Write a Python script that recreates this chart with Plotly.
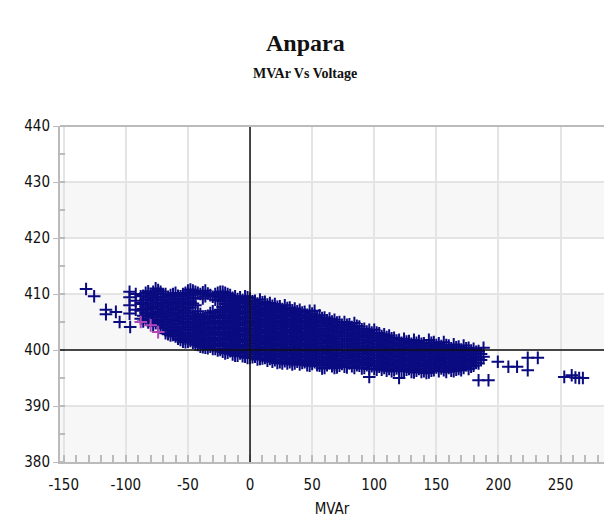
import plotly.graph_objects as go

# ---- data: (MVAr column, list of kV values) ----
columns = [
    (-97, [410.4, 409.4, 408.0, 406.5]),
    (-92, [410.0, 408.8, 407.2]),
    (-88, [409.6, 408.4, 407.0, 405.6]),
    (-84, [410.2, 409.0, 407.8, 406.6, 405.4]),
    (-80, [409.8, 408.8, 407.6, 406.4, 405.2]),
    (-76, [411.0, 410.0, 408.9, 407.8, 406.8, 405.8, 404.8]),
    (-72, [410.4, 409.4, 408.4, 407.4, 406.4, 405.4, 404.4]),
    (-68, [410.0, 409.0, 408.0, 407.0, 406.0, 405.0, 404.0, 403.0]),
    (-64, [409.8, 408.6, 407.6, 406.6, 405.6, 404.6, 403.6, 402.6]),
    (-60, [410.2, 409.2, 408.2, 407.2, 406.2, 405.2, 404.2, 403.2, 402.4]),
    (-56, [409.6, 408.6, 407.6, 406.6, 405.6, 404.6, 403.6, 402.6, 401.8]),
    (-52, [410.2, 409.2, 408.2, 407.0, 406.0, 405.0, 404.0, 403.0, 402.0, 401.4]),
    (-48, [410.8, 409.8, 408.6, 407.6, 406.6, 405.6, 404.6, 403.6, 402.6, 401.6]),
    (-44, [410.4, 409.2, 408.0, 406.0, 405.0, 404.0, 403.0, 402.0, 401.0]),
    (-40, [410.0, 406.4, 405.4, 404.4, 403.4, 402.4, 401.4, 400.6]),
    (-36, [410.6, 409.6, 406.0, 405.0, 404.0, 403.0, 402.0, 401.0, 400.4]),
    (-32, [409.8, 406.6, 405.6, 404.6, 403.6, 402.6, 401.6, 400.6]),
    (-28, [410.0, 409.0, 406.2, 405.2, 404.2, 403.2, 402.2, 401.2, 400.2]),
    (-24, [410.4, 409.4, 407.2, 406.0, 405.0, 404.0, 403.0, 402.0, 401.0, 400.0]),
    (-20, [410.2, 409.2, 408.2, 407.2, 406.2, 405.2, 404.2, 403.2, 402.2, 401.2, 400.2, 399.4]),
    (-16, [409.8, 408.8, 407.8, 406.8, 405.8, 404.8, 403.8, 402.8, 401.8, 400.8, 399.8]),
    (-12, [409.6, 408.6, 407.6, 406.6, 405.6, 404.6, 403.6, 402.6, 401.6, 400.6, 399.6, 399.0]),
    (-8, [409.4, 408.4, 407.4, 406.4, 405.4, 404.4, 403.4, 402.4, 401.4, 400.4, 399.4]),
    (-4, [409.6, 408.6, 407.6, 406.6, 405.6, 404.6, 403.6, 402.6, 401.6, 400.6, 399.6, 398.8]),
    (0, [409.2, 408.2, 407.2, 406.2, 405.2, 404.2, 403.2, 402.2, 401.2, 400.2, 399.2, 398.6]),
    (4, [408.8, 407.8, 406.8, 405.8, 404.8, 403.8, 402.8, 401.8, 400.8, 399.8, 398.8]),
    (8, [409.0, 408.0, 407.0, 406.0, 405.0, 404.0, 403.0, 402.0, 401.0, 400.0, 399.0, 398.4]),
    (12, [408.6, 407.6, 406.6, 405.6, 404.6, 403.6, 402.6, 401.6, 400.6, 399.6, 398.6]),
    (16, [408.4, 407.4, 406.4, 405.4, 404.4, 403.4, 402.4, 401.4, 400.4, 399.4, 398.4]),
    (20, [408.2, 407.2, 406.2, 405.2, 404.2, 403.2, 402.2, 401.2, 400.2, 399.2, 398.2]),
    (24, [407.8, 406.8, 405.8, 404.8, 403.8, 402.8, 401.8, 400.8, 399.8, 398.8, 397.8]),
    (28, [408.0, 407.0, 406.0, 405.0, 404.0, 403.0, 402.0, 401.0, 400.0, 399.0, 398.0]),
    (32, [407.6, 406.6, 405.6, 404.6, 403.6, 402.6, 401.6, 400.6, 399.6, 398.6, 397.8]),
    (36, [407.4, 406.4, 405.4, 404.4, 403.4, 402.4, 401.4, 400.4, 399.4, 398.4, 397.6]),
    (40, [407.2, 406.2, 405.2, 404.2, 403.2, 402.2, 401.2, 400.2, 399.2, 398.2, 397.4]),
    (44, [406.8, 405.8, 404.8, 403.8, 402.8, 401.8, 400.8, 399.8, 398.8, 397.8]),
    (48, [407.0, 406.0, 405.0, 404.0, 403.0, 402.0, 401.0, 400.0, 399.0, 398.0, 397.2]),
    (52, [407.0, 405.8, 404.8, 403.8, 402.8, 401.8, 400.8, 399.8, 398.8, 397.8]),
    (56, [406.2, 405.2, 404.2, 403.2, 402.2, 401.2, 400.2, 399.2, 398.2, 397.2]),
    (60, [405.8, 404.8, 403.8, 402.8, 401.8, 400.8, 399.8, 398.8, 397.8, 396.8]),
    (64, [405.6, 404.6, 403.6, 402.6, 401.6, 400.6, 399.6, 398.6, 397.6]),
    (68, [405.4, 404.4, 403.4, 402.4, 401.4, 400.4, 399.4, 398.4, 397.4, 396.8]),
    (72, [405.0, 404.0, 403.0, 402.0, 401.0, 400.0, 399.0, 398.0, 397.2]),
    (76, [405.0, 404.0, 403.0, 402.0, 401.0, 400.0, 399.0, 398.0, 397.0]),
    (80, [404.6, 403.6, 402.6, 401.6, 400.6, 399.6, 398.6, 397.6]),
    (84, [404.8, 403.8, 402.8, 401.8, 400.8, 399.8, 398.8, 397.8, 396.8]),
    (88, [404.2, 403.2, 402.2, 401.2, 400.2, 399.2, 398.2, 397.2]),
    (92, [403.8, 402.8, 401.8, 400.8, 399.8, 398.8, 397.8, 396.8]),
    (96, [403.6, 402.6, 401.6, 400.6, 399.6, 398.6, 397.6, 396.6, 395.2]),
    (100, [403.6, 402.6, 401.6, 400.6, 399.6, 398.6, 397.6, 396.6]),
    (104, [403.0, 402.0, 401.0, 400.0, 399.0, 398.0, 397.0]),
    (108, [402.8, 401.8, 400.8, 399.8, 398.8, 397.8, 396.8]),
    (112, [402.6, 401.6, 400.6, 399.6, 398.6, 397.6, 396.6]),
    (116, [402.2, 401.2, 400.2, 399.2, 398.2, 397.2, 396.4]),
    (120, [401.8, 400.8, 399.8, 398.8, 397.8, 396.8, 395.0]),
    (124, [402.0, 401.0, 400.0, 399.0, 398.0, 397.0, 396.2]),
    (128, [401.6, 400.6, 399.6, 398.6, 397.6, 396.6]),
    (132, [401.8, 400.8, 399.8, 398.8, 397.8, 396.8, 396.0]),
    (136, [401.6, 400.6, 399.6, 398.6, 397.6, 396.6]),
    (140, [401.2, 400.2, 399.2, 398.2, 397.2, 396.2]),
    (144, [401.8, 400.8, 399.8, 398.8, 397.8, 396.8, 396.0]),
    (148, [401.4, 400.4, 399.4, 398.4, 397.4, 396.4]),
    (152, [401.2, 400.2, 399.2, 398.2, 397.2, 396.2]),
    (156, [401.4, 400.4, 399.4, 398.4, 397.4, 396.4]),
    (160, [400.8, 399.8, 398.8, 397.8, 396.8]),
    (164, [401.0, 400.0, 399.0, 398.0, 397.0, 396.2]),
    (168, [400.6, 399.6, 398.6, 397.6, 396.6]),
    (172, [400.8, 399.8, 398.8, 397.8, 396.8]),
    (176, [400.4, 399.4, 398.4, 397.4, 396.6]),
    (180, [400.2, 399.2, 398.2, 397.2]),
    (184, [399.8, 398.6, 397.6, 394.6]),
    (188, [400.4, 398.8]),
]

# in-between readings (same cloud, intermediate MVAr values)
columns_b = [
    (-86, [409.7, 408.2, 407.3, 406.1, 405.1]),
    (-82, [410.5, 409.4, 408.3, 407.2, 406.0, 404.9]),
    (-78, [410.4, 409.3, 408.3, 407.3, 406.3, 405.3, 404.3]),
    (-74, [410.7, 409.5, 408.3, 407.3, 406.3, 405.3, 404.3]),
    (-70, [410.0, 408.9, 407.9, 406.9, 405.9, 404.9, 403.9]),
    (-66, [409.5, 408.5, 407.5, 406.5, 405.5, 404.5, 403.5, 402.8]),
    (-62, [410.0, 409.1, 408.1, 407.1, 406.1, 405.1, 404.1, 403.1, 402.7]),
    (-58, [409.7, 408.7, 407.7, 406.7, 405.7, 404.7, 403.7, 402.7, 402.0]),
    (-54, [410.0, 409.1, 408.1, 407.1, 406.1, 405.1, 404.1, 403.1, 402.1, 401.5]),
    (-50, [410.6, 409.7, 408.7, 407.5, 406.5, 405.5, 404.5, 403.5, 402.5, 401.5]),
    (-46, [410.6, 409.3, 408.3, 406.1, 405.1, 404.1, 403.1, 402.1, 401.3]),
    (-42, [410.2, 406.9, 405.9, 404.9, 403.9, 402.9, 401.9, 400.9]),
    (-38, [410.3, 409.2, 405.7, 404.7, 403.7, 402.7, 401.7, 400.9, 400.5]),
    (-34, [410.1, 406.1, 405.1, 404.1, 403.1, 402.1, 401.1, 400.3]),
    (-30, [409.5, 406.9, 405.9, 404.9, 403.9, 402.9, 401.9, 400.9, 400.2]),
    (-26, [410.2, 408.9, 406.7, 405.7, 404.7, 403.7, 402.7, 401.7, 400.7, 399.9]),
    (-22, [410.4, 409.7, 408.7, 407.7, 406.7, 405.7, 404.7, 403.7, 402.7, 401.7, 400.7, 399.7]),
    (-18, [410.0, 409.3, 408.3, 407.3, 406.3, 405.3, 404.3, 403.3, 402.3, 401.3, 400.3, 399.5]),
    (-14, [409.3, 408.1, 407.1, 406.1, 405.1, 404.1, 403.1, 402.1, 401.1, 400.1, 399.2]),
    (-10, [409.1, 407.9, 406.9, 405.9, 404.9, 403.9, 402.9, 401.9, 400.9, 399.9, 399.0]),
    (-6, [408.9, 407.9, 406.9, 405.9, 404.9, 403.9, 402.9, 401.9, 400.9, 399.9, 398.9]),
    (-2, [409.4, 408.7, 407.7, 406.7, 405.7, 404.7, 403.7, 402.7, 401.7, 400.7, 399.7, 398.6]),
    (2, [408.7, 407.7, 406.7, 405.7, 404.7, 403.7, 402.7, 401.7, 400.7, 399.7, 398.7]),
    (6, [408.3, 407.3, 406.3, 405.3, 404.3, 403.3, 402.3, 401.3, 400.3, 399.3, 398.3]),
    (10, [408.5, 407.5, 406.5, 405.5, 404.5, 403.5, 402.5, 401.5, 400.5, 399.5, 398.5]),
    (14, [408.1, 407.1, 406.1, 405.1, 404.1, 403.1, 402.1, 401.1, 400.1, 399.1, 398.1]),
    (18, [407.9, 406.9, 405.9, 404.9, 403.9, 402.9, 401.9, 400.9, 399.9, 398.9, 397.9]),
    (22, [407.7, 406.7, 405.7, 404.7, 403.7, 402.7, 401.7, 400.7, 399.7, 398.7, 397.7]),
    (26, [407.3, 406.3, 405.3, 404.3, 403.3, 402.3, 401.3, 400.3, 399.3, 398.3, 397.6]),
    (30, [407.5, 406.5, 405.5, 404.5, 403.5, 402.5, 401.5, 400.5, 399.5, 398.5, 397.6]),
    (34, [407.1, 406.1, 405.1, 404.1, 403.1, 402.1, 401.1, 400.1, 399.1, 398.1, 397.4]),
    (38, [406.9, 405.9, 404.9, 403.9, 402.9, 401.9, 400.9, 399.9, 398.9, 397.9]),
    (42, [406.7, 405.7, 404.7, 403.7, 402.7, 401.7, 400.7, 399.7, 398.7, 397.7]),
    (46, [406.3, 405.3, 404.3, 403.3, 402.3, 401.3, 400.3, 399.3, 398.3, 397.3]),
    (50, [406.5, 405.5, 404.5, 403.5, 402.5, 401.5, 400.5, 399.5, 398.5, 397.5]),
    (54, [406.0, 405.3, 404.3, 403.3, 402.3, 401.3, 400.3, 399.3, 398.3, 397.3]),
    (58, [405.7, 404.7, 403.7, 402.7, 401.7, 400.7, 399.7, 398.7, 397.7, 396.7]),
    (62, [405.3, 404.3, 403.3, 402.3, 401.3, 400.3, 399.3, 398.3, 397.3]),
    (66, [405.1, 404.1, 403.1, 402.1, 401.1, 400.1, 399.1, 398.1, 397.1]),
    (70, [404.9, 403.9, 402.9, 401.9, 400.9, 399.9, 398.9, 397.9, 396.9]),
    (74, [404.5, 403.5, 402.5, 401.5, 400.5, 399.5, 398.5, 397.5]),
    (78, [404.5, 403.5, 402.5, 401.5, 400.5, 399.5, 398.5, 397.5, 396.9]),
    (82, [404.1, 403.1, 402.1, 401.1, 400.1, 399.1, 398.1, 397.1]),
    (86, [404.3, 403.3, 402.3, 401.3, 400.3, 399.3, 398.3, 397.3]),
    (90, [403.7, 402.7, 401.7, 400.7, 399.7, 398.7, 397.7, 396.7]),
    (94, [403.3, 402.3, 401.3, 400.3, 399.3, 398.3, 397.3]),
    (98, [403.1, 402.1, 401.1, 400.1, 399.1, 398.1, 397.1]),
    (102, [403.1, 402.1, 401.1, 400.1, 399.1, 398.1, 397.1, 396.5]),
    (106, [402.5, 401.5, 400.5, 399.5, 398.5, 397.5, 396.5]),
    (110, [402.3, 401.3, 400.3, 399.3, 398.3, 397.3, 396.3]),
    (114, [402.1, 401.1, 400.1, 399.1, 398.1, 397.1, 396.2]),
    (118, [401.7, 400.7, 399.7, 398.7, 397.7, 396.7]),
    (122, [401.3, 400.3, 399.3, 398.3, 397.3, 396.3]),
    (126, [401.5, 400.5, 399.5, 398.5, 397.5, 396.5]),
    (130, [401.1, 400.1, 399.1, 398.1, 397.1, 396.1]),
    (134, [401.3, 400.3, 399.3, 398.3, 397.3, 396.3]),
    (138, [401.1, 400.1, 399.1, 398.1, 397.1, 396.1]),
    (142, [400.7, 399.7, 398.7, 397.7, 396.7, 395.9]),
    (146, [401.3, 400.3, 399.3, 398.3, 397.3, 396.3]),
    (150, [400.9, 399.9, 398.9, 397.9, 396.9]),
    (154, [400.7, 399.7, 398.7, 397.7, 396.7]),
    (158, [400.9, 399.9, 398.9, 397.9, 396.9, 396.1]),
    (162, [400.3, 399.3, 398.3, 397.3, 396.3]),
    (166, [400.5, 399.5, 398.5, 397.5, 396.5]),
    (170, [400.1, 399.1, 398.1, 397.1, 396.4]),
    (174, [400.3, 399.3, 398.3, 397.3]),
    (178, [399.9, 398.9, 397.9, 397.0]),
    (182, [399.7, 398.7, 397.7]),
    (186, [399.3, 398.2]),
]

# isolated points
outlier_mvar = [-132, -125.5, -116, -116, -108, -105, -96.5, 192, 199.5, 208, 215, 223.6, 223.6, 231.7, 253, 259, 262, 265, 268]
outlier_kv = [410.9, 409.6, 407.2, 406.4, 406.8, 405.0, 404.1, 394.6, 397.9, 397.0, 397.0, 398.6, 396.4, 398.6, 395.2, 395.5, 395.1, 395.0, 395.0]

# the few magenta points
pink_mvar = [-88, -80, -74]
pink_kv = [405.0, 404.4, 403.2]

x_ticks = [-150, -100, -50, 0, 50, 100, 150, 200, 250]
y_ticks = [380, 390, 400, 410, 420, 430, 440]

all_cols = columns + columns_b
mvar = [c for c, vals in all_cols for _ in vals] + outlier_mvar
kv = [v for c, vals in all_cols for v in vals] + outlier_kv

NAVY = "#0b0b80"
fig = go.Figure()
fig.add_trace(go.Scatter(
    x=mvar, y=kv, mode="markers",
    marker=dict(symbol="cross-thin", size=9, line=dict(color=NAVY, width=2)),
    showlegend=False))
fig.add_trace(go.Scatter(
    x=pink_mvar, y=pink_kv, mode="markers",
    marker=dict(symbol="cross-thin", size=9, line=dict(color="#b048b8", width=2)),
    showlegend=False))

# subtle alternating bands
for y0 in [380, 400, 420]:
    fig.add_shape(type="rect", xref="paper", yref="y", x0=0, x1=1, y0=y0, y1=y0 + 10,
                  fillcolor="#f7f7f7", line_width=0, layer="below")
# crosshair lines
fig.add_shape(type="line", xref="x", yref="paper", x0=0, x1=0, y0=0, y1=1,
              line=dict(color="#111", width=1.5))
fig.add_shape(type="line", xref="paper", yref="y", x0=0, x1=1, y0=400, y1=400,
              line=dict(color="#111", width=1.5))
# top border
fig.add_shape(type="line", xref="paper", yref="paper", x0=0, x1=1, y0=1, y1=1,
              line=dict(color="#bbbbbb", width=2))

FONT = "DejaVu Sans Condensed, Liberation Sans Narrow, Liberation Sans"
tickfont = dict(family=FONT, size=15, color="#111")
fig.update_layout(
    width=604, height=525,
    margin=dict(l=60, r=0, t=126, b=63),
    paper_bgcolor="white", plot_bgcolor="white",
    xaxis=dict(range=[-153, 285], tickvals=x_ticks, ticktext=[str(t) for t in x_ticks],
               showgrid=True, gridcolor="#e4e4e4", gridwidth=1.5,
               zeroline=False, showline=True, linecolor="#bbbbbb", linewidth=2,
               ticks="", ticklabelstandoff=8, tickfont=tickfont,
               minor=dict(dtick=10, tick0=0, ticks="inside", ticklen=7, tickcolor="#bbbbbb",
                          tickwidth=1.5, showgrid=False),
               title=dict(text="MVAr", font=dict(family=FONT, size=15, color="#111"), standoff=10)),
    yaxis=dict(range=[380, 440], tickvals=y_ticks, showgrid=True, gridcolor="#e4e4e4", gridwidth=1.5,
               zeroline=False, showline=True, linecolor="#bbbbbb", linewidth=2,
               ticks="outside", ticklen=5, tickcolor="#bbbbbb", tickfont=tickfont,
               minor=dict(dtick=5, tick0=0, ticks="inside", ticklen=5, tickcolor="#bbbbbb",
                          tickwidth=1.5, showgrid=False)),
    annotations=[
        dict(text="<b>Anpara</b>", x=(305 - 60) / 544, y=1, xref="paper", yref="paper",
             yanchor="middle", yshift=126 - 43, showarrow=False,
             font=dict(family="Liberation Serif, Times New Roman", size=24, color="#111")),
        dict(text="<b>MVAr Vs Voltage</b>", x=(305 - 60) / 544, y=1, xref="paper", yref="paper",
             yanchor="middle", yshift=126 - 73, showarrow=False,
             font=dict(family="Liberation Serif, Times New Roman", size=14, color="#111")),
    ],
)

fig.write_html("out.html")
